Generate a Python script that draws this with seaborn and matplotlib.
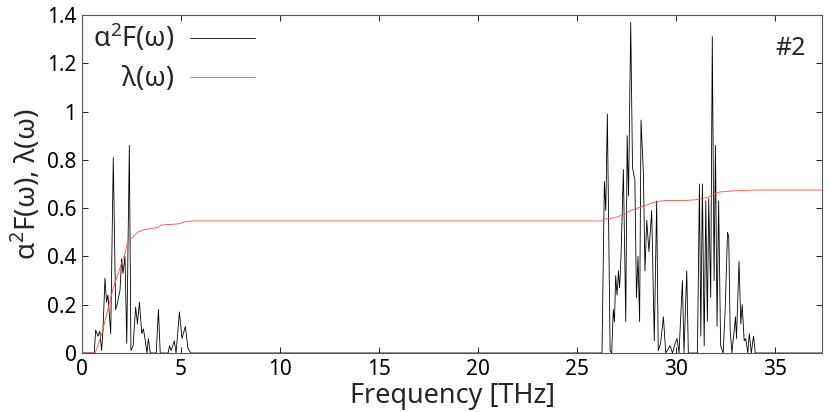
import numpy as np
import pandas as pd
import seaborn as sns
import matplotlib.pyplot as plt

# Eliashberg spectral function a2F(w)
a2f_freq = [0.0, 0.62, 0.69, 0.80, 0.90, 0.99, 1.06, 1.16, 1.24, 1.31, 1.45, 1.58, 1.70, 1.77,
            1.92, 2.00, 2.07, 2.17, 2.26, 2.39, 2.47, 2.58, 2.71, 2.80, 2.90, 3.02, 3.10, 3.18,
            3.28, 3.35, 3.45, 3.75, 3.86, 3.95, 4.35, 4.42, 4.50, 4.66, 4.75, 4.92, 5.05, 5.22,
            5.35, 5.49,
            26.26, 26.38, 26.45, 26.53, 26.67, 26.75, 26.83, 26.89, 26.95, 27.02, 27.09, 27.15,
            27.22, 27.34, 27.46, 27.53, 27.60, 27.71, 27.80, 27.86, 27.92, 28.00, 28.08, 28.16,
            28.23, 28.35, 28.43, 28.52, 28.63, 28.77, 28.90, 29.02, 29.10, 29.22, 29.36, 29.48,
            29.70, 29.82, 29.95, 30.05, 30.15, 30.32, 30.40, 30.54, 30.62, 31.08, 31.18, 31.25,
            31.33, 31.42, 31.50, 31.58, 31.65, 31.75, 31.83, 31.92, 31.99, 32.07, 32.15, 32.25,
            32.38, 32.48, 32.60, 32.66, 32.73, 32.82, 33.00, 33.05, 33.18, 33.27, 33.34, 33.44,
            33.52, 33.62, 33.70, 33.80, 33.91, 34.00, 37.50]
a2f_val = [0.0, 0.0, 0.095, 0.07, 0.09, 0.01, 0.095, 0.31, 0.21, 0.24, 0.08, 0.81, 0.18, 0.20,
           0.26, 0.39, 0.33, 0.40, 0.04, 0.86, 0.01, 0.03, 0.19, 0.12, 0.21, 0.08, 0.10, 0.06,
           0.0, 0.06, 0.0, 0.0, 0.18, 0.0, 0.0, 0.03, 0.01, 0.05, 0.0, 0.17, 0.06, 0.11,
           0.02, 0.0,
           0.0, 0.71, 0.59, 0.99, 0.01, 0.0, 0.18, 0.13, 0.32, 0.24, 0.34, 0.27,
           0.40, 0.76, 0.13, 0.90, 0.65, 1.37, 0.77, 0.74, 0.72, 0.23, 0.40, 0.13,
           0.965, 0.745, 0.34, 0.55, 0.42, 0.59, 0.05, 0.63, 0.01, 0.04, 0.15, 0.0,
           0.03, 0.0, 0.04, 0.06, 0.0, 0.30, 0.0, 0.34, 0.0, 0.0, 0.70, 0.07,
           0.70, 0.03, 0.63, 0.13, 0.64, 0.23, 1.31, 0.30, 0.86, 0.11, 0.63, 0.03,
           0.0, 0.18, 0.50, 0.48, 0.10, 0.0, 0.15, 0.06, 0.38, 0.12, 0.20, 0.05,
           0.06, 0.0, 0.08, 0.0, 0.07, 0.0, 0.0]

# cumulative coupling lambda(w)
lam_freq = [0.0, 0.66, 1.0, 1.58, 2.2, 2.3, 2.45, 2.8, 3.1, 3.85, 4.0, 4.9, 5.25, 5.6,
            26.28, 26.4, 26.9, 27.4, 27.7, 28.4, 29.0, 29.5, 30.5, 31.0, 31.6, 31.85,
            32.2, 33.0, 34.0, 37.5]
lam_val = [0.0, 0.0, 0.08, 0.27, 0.42, 0.46, 0.47, 0.50, 0.51, 0.52, 0.53, 0.535, 0.545, 0.547,
           0.547, 0.555, 0.56, 0.575, 0.59, 0.61, 0.627, 0.632, 0.632, 0.635, 0.645, 0.655,
           0.667, 0.672, 0.675, 0.675]

x_ticks = [0, 5, 10, 15, 20, 25, 30, 35]
y_ticks = [0, 0.2, 0.4, 0.6, 0.8, 1.0, 1.2, 1.4]
y_ticklabels = ['0', '0.2', '0.4', '0.6', '0.8', '1', '1.2', '1.4']

sns.set_style('ticks')
plt.rcParams['font.family'] = ['Noto Sans', 'DejaVu Sans']
plt.rcParams['mathtext.fontset'] = 'custom'
plt.rcParams['mathtext.rm'] = 'Noto Sans'

fig = plt.figure(figsize=(8.3, 4.12), dpi=100)
ax = fig.add_axes([82/830, 1 - 353/412, 740/830, 338/412])

a2f = pd.DataFrame({'freq': a2f_freq, 'val': a2f_val})
lam = pd.DataFrame({'freq': lam_freq, 'val': lam_val})
sns.lineplot(data=a2f, x='freq', y='val', ax=ax, color='black', lw=0.6,
             estimator=None, sort=False, label='α$^2$F(ω)')
sns.lineplot(data=lam, x='freq', y='val', ax=ax, color='#ff4a4a', lw=0.6,
             estimator=None, sort=False, label='λ(ω)')

ax.set_xlim(0, 37.37)
ax.set_ylim(0, 1.4)
ax.set_xticks(x_ticks)
ax.set_yticks(y_ticks)
ax.set_yticklabels(y_ticklabels)
ax.tick_params(direction='in', top=True, right=True, length=4, width=0.6,
               labelsize=15, colors='black', pad=4)
for s in ax.spines.values():
    s.set_linewidth(0.8)
    s.set_color('#555555')
ax.set_xlabel('Frequency [THz]', fontsize=19.5, labelpad=2)
ax.set_ylabel('α$^2$F(ω), λ(ω)', fontsize=20, labelpad=3)

ax.legend(loc='upper left', bbox_to_anchor=(-0.004, 1.02), frameon=False, markerfirst=False,
          fontsize=19.5, handlelength=2.4, handletextpad=0.6, borderaxespad=0.1,
          labelspacing=0.4)
ax.text(0.978, 0.9, '#2', transform=ax.transAxes, ha='right', va='center', fontsize=18)

fig.savefig('out.png', dpi=100)
